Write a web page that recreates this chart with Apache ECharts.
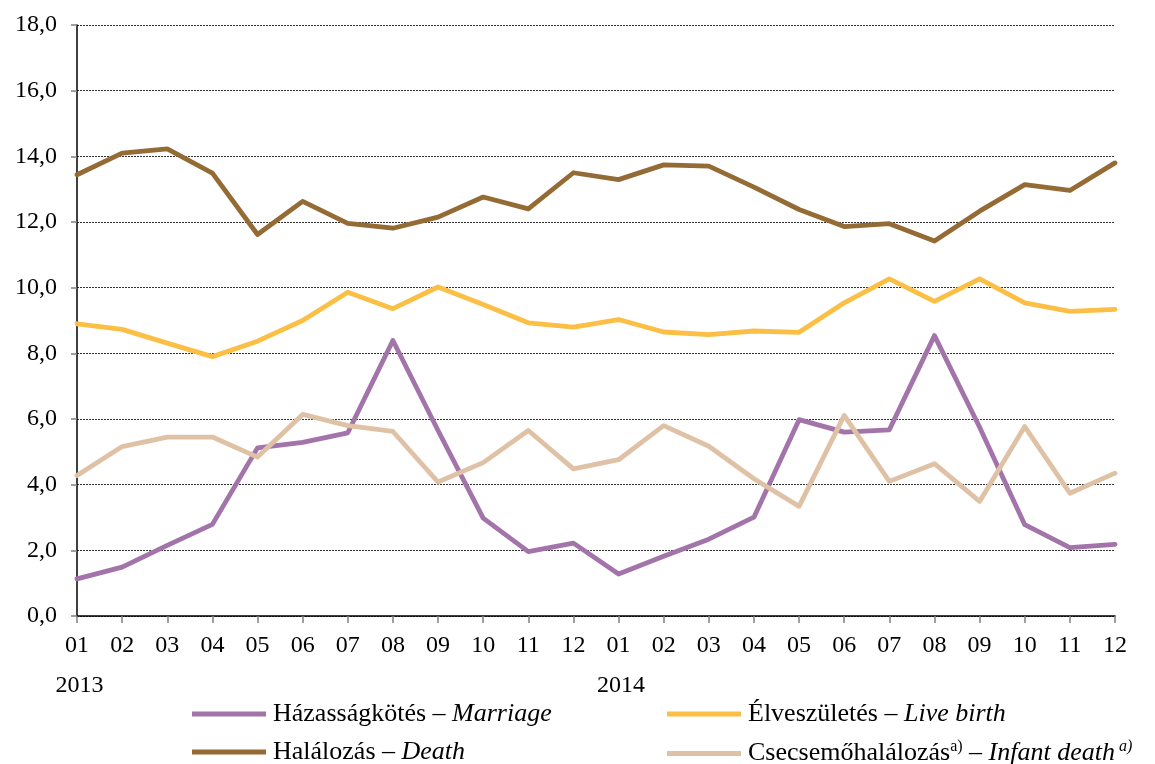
<!DOCTYPE html>
<html><head><meta charset="utf-8">
<script src="https://cdn.jsdelivr.net/npm/echarts@6/dist/echarts.min.js"></script>
<style>html,body{margin:0;padding:0;background:#fff}#c{width:1155px;height:764px}</style>
</head><body><div id="c"></div>
<script>
const months = ['01','02','03','04','05','06','07','08','09','10','11','12','01','02','03','04','05','06','07','08','09','10','11','12'];
const yearLabels = {0:'2013', 12:'2014'};
const marriage = [1.13,1.49,2.15,2.79,5.12,5.29,5.58,8.39,5.65,2.98,1.96,2.22, 1.28,1.82,2.34,3.01,5.98,5.60,5.67,8.54,5.75,2.78,2.08,2.18];
const liveBirth = [8.90,8.73,8.31,7.90,8.37,9.00,9.86,9.36,10.02,9.49,8.93,8.80, 9.03,8.65,8.57,8.68,8.64,9.54,10.27,9.58,10.27,9.54,9.28,9.34];
const death = [13.44,14.10,14.23,13.49,11.62,12.63,11.96,11.81,12.15,12.76,12.40,13.50, 13.29,13.74,13.70,13.06,12.38,11.86,11.95,11.42,12.33,13.14,12.96,13.80];
const infant = [4.28,5.16,5.45,5.45,4.84,6.14,5.80,5.62,4.08,4.67,5.65,4.48, 4.76,5.80,5.17,4.18,3.34,6.11,4.10,4.64,3.49,5.77,3.74,4.35];
const yTicks = {min:0, max:18, interval:2};

const font = 'Liberation Serif, Times New Roman, serif';
const FS = 24;
const LFS = 26;
const names = {
  m: 'Házasságkötés – {i|Marriage}',
  b: 'Élveszületés – {i|Live birth}',
  d: 'Halálozás – {i|Death}',
  c: 'Csecsemőhalálozás{s|a)} – {i|Infant death}{si|a)}'
};
const colors = {m:'#A374AA', b:'#FBBF45', d:'#946B35', c:'#DFC2A6'};
const rich = {
  i:{fontStyle:'italic', fontFamily:font, fontSize:LFS, color:'#000'},
  s:{fontFamily:font, fontSize:16, color:'#000', padding:[0,0,13,0]},
  si:{fontFamily:font, fontSize:16, fontStyle:'italic', color:'#000', padding:[0,0,13,4]}
};
const chart = echarts.init(document.getElementById('c'), null, {renderer:'canvas'});
function ser(key, data){
  return {name: names[key], type:'line', data: data, symbol:'none', smooth:false,
    lineStyle:{width:4.8, color:colors[key], cap:'round', join:'round'}, itemStyle:{color:colors[key]}};
}
const legendBase = {
  orient:'vertical', icon:'rect', itemWidth:74, itemHeight:5, itemGap:12, height:120, padding:0,
  textStyle:{fontFamily:font, fontSize:LFS, color:'#000', rich:rich, padding:[0,0,0,2]},
};
chart.setOption({
  animation:false,
  backgroundColor:'#fff',
  grid:{left:77, right:40, top:25, bottom:148, containLabel:false},
  legend:[
    Object.assign({}, legendBase, {left:192, top:701, data:[names.m, names.d]}),
    Object.assign({}, legendBase, {left:667, top:701, data:[names.b, names.c]})
  ],
  xAxis:{
    type:'category', data:months, boundaryGap:false,
    axisLine:{lineStyle:{color:'#000', width:1.5}},
    axisTick:{show:true, alignWithLabel:true, length:7, lineStyle:{color:'#808080', width:1.5}},
    axisLabel:{fontFamily:font, fontSize:FS, color:'#000', margin:20, interval:0,
      formatter:function(v, idx){ return yearLabels[idx] ? v + '\n\n{y|' + yearLabels[idx] + '}' : v; },
      lineHeight:20,
      rich:{y:{fontFamily:font, fontSize:FS, color:'#000', padding:[0,0,0,5], lineHeight:20}}
    }
  },
  yAxis:{
    type:'value', min:yTicks.min, max:yTicks.max, interval:yTicks.interval,
    axisLine:{show:true, lineStyle:{color:'#000', width:1.5}},
    axisTick:{show:true, length:6, lineStyle:{color:'#808080', width:1.5}},
    axisLabel:{fontFamily:font, fontSize:FS, color:'#000', margin:20,
      formatter:function(v){ return v.toFixed(1).replace('.', ','); }},
    splitLine:{show:true, lineStyle:{color:'#333', type:[2,1], width:1}}
  },
  series:[ser('m', marriage), ser('b', liveBirth), ser('d', death), ser('c', infant)]
});
</script></body></html>
